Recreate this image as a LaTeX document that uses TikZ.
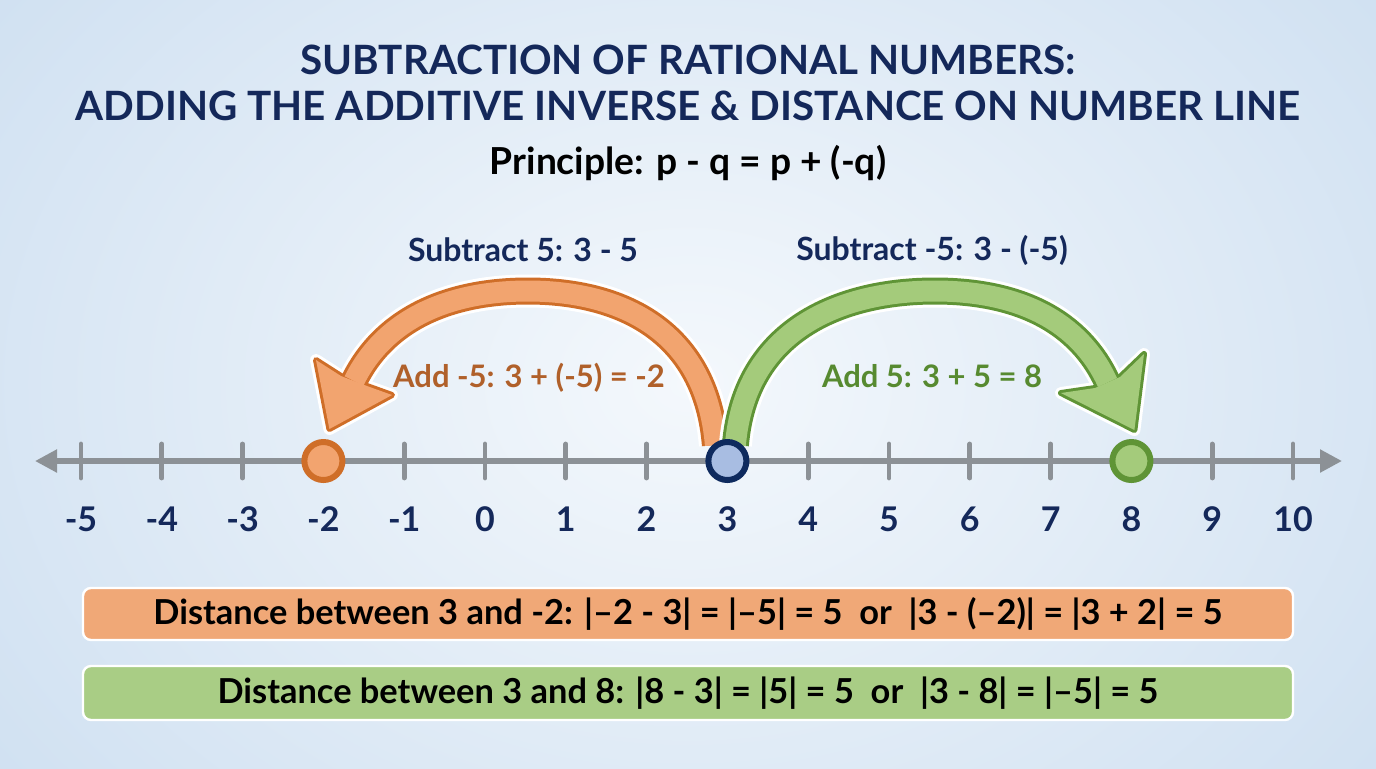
\documentclass[tikz,border=0pt]{standalone}
\usepackage{fontspec}
\setmainfont{Lato}
\usetikzlibrary{arrows.meta,calc}
\definecolor{navy}{HTML}{14285A}
\definecolor{bgin}{HTML}{F4F8FC}
\definecolor{bgout}{HTML}{CFE0F1}
\definecolor{axisgray}{HTML}{8C9196}
\definecolor{ofill}{HTML}{F2A46F}
\definecolor{oborder}{HTML}{CF6E28}
\definecolor{otext}{HTML}{B0602A}
\definecolor{gfill}{HTML}{A4CB7B}
\definecolor{gborder}{HTML}{5F9436}
\definecolor{gtext}{HTML}{578A30}
\definecolor{bfill}{HTML}{A8BDE2}
\definecolor{bborder}{HTML}{0E2A5E}
\definecolor{obox}{HTML}{F0A877}
\definecolor{gbox}{HTML}{A9CD85}
\tikzset{
  titletext/.style={font=\fontsize{20.2}{24}\selectfont\bfseries, text=navy, inner sep=0pt},
  princtext/.style={font=\fontsize{18.6}{22}\selectfont\bfseries, text=black, inner sep=0pt},
  sublab/.style={font=\fontsize{16}{19}\selectfont\bfseries, text=navy, inner sep=0pt},
  addlab/.style={font=\fontsize{15.5}{18}\selectfont\bfseries, inner sep=0pt},
  numlab/.style={font=\fontsize{17}{20}\selectfont\bfseries, text=navy, inner sep=0pt},
  axisline/.style={line width=2.6pt, draw=axisgray},
  tickline/.style={line width=2.4pt, draw=axisgray, line cap=round},
  ptnode/.style={circle, minimum size=19pt, inner sep=0pt, line width=3pt},
  infobox/.style={rounded corners=4pt, draw=white, line width=1.2pt, minimum width=605pt,
     text=black, font=\fontsize{17.2}{20}\selectfont\bfseries},
  halo/.style={draw=white, line width=16.5pt},
  halohead/.style={draw=white, fill=white, line width=6pt, line join=round},
}
\begin{document}
\begin{tikzpicture}[x=0.5pt,y=-0.5pt]
\useasboundingbox (0,0) rectangle (1376,768);
\shade[inner color=bgin, outer color=bgout] (-200,-300) rectangle (1576,1068);

% titles
\node[titletext] (t1) at (688,60) {SUBTRACTION OF RATIONAL NUMBERS:};
\node[titletext] (t2) at (688,106) {ADDING THE ADDITIVE INVERSE \& DISTANCE ON NUMBER LINE};
\node[princtext] (pr) at (688,163) {Principle: p - q = p + (-q)};

% number line
\coordinate (nlL) at (35,461);
\coordinate (nlR) at (1342,461);
\draw[axisline, {Triangle[length=11pt,width=11pt]}-{Triangle[length=11pt,width=11pt]}] (nlL) -- (nlR);
\foreach \n in {-5,...,10}{
  \draw[tickline] ({485+80.8*\n},444) -- ({485+80.8*\n},478);
  \node[numlab] (lab\n) at ({485+80.8*\n},519) {\n};
}

% point coordinates
\coordinate (cm2) at (323.4,461);
\coordinate (c3) at (727.4,461);
\coordinate (c8) at (1131.4,461);

% orange arrow geometry
\coordinate (oS) at ($(c3)+(-12,-16)$);
\coordinate (opk) at (528,291);
\coordinate (oB) at (354,381);
\coordinate (oT) at ($(cm2)+(6,-32)$);
\coordinate (oW1) at (316,360);
\coordinate (oW2) at (392,395);
\coordinate (oN1) at (341,376);
\coordinate (oN2) at (367,386);
\def\opath{(oS) .. controls (706,330) and (620,291) .. (opk) .. controls (450,291) and (385,318) .. (oB)}
\def\ohead{(oN1) -- (oW1) -- (oT) -- (oW2) -- (oN2) -- cycle}

% green arrow geometry
\coordinate (gS) at ($(c3)+(8,-16)$);
\coordinate (gpk) at (935,291);
\coordinate (gB) at (1107.5,382.5);
\coordinate (gT) at ($(c8)+(3,-31)$);
\coordinate (gW1) at (1061,393);
\coordinate (gW2) at (1144,354);
\coordinate (gN1) at (1095,388);
\coordinate (gN2) at (1120,377);
\def\gpath{(gS) .. controls (745,330) and (840,291) .. (gpk) .. controls (1020,291) and (1080,322) .. (gB)}
\def\ghead{(gN1) -- (gW1) -- (gT) -- (gW2) -- (gN2) -- cycle}

% orange band
\draw[halo] \opath;
\filldraw[halohead] \ohead;
\draw[draw=oborder, line width=13.5pt] \opath;
\filldraw[draw=oborder, fill=oborder, line width=3pt, line join=round] \ohead;
\draw[draw=ofill, line width=10.5pt] \opath;
\fill[ofill] \ohead;

% green band
\draw[halo] \gpath;
\filldraw[halohead] \ghead;
\draw[draw=gborder, line width=13.5pt] \gpath;
\filldraw[draw=gborder, fill=gborder, line width=3pt, line join=round] \ghead;
\draw[draw=gfill, line width=10.5pt] \gpath;
\fill[gfill] \ghead;

% points
\node[ptnode, fill=ofill, draw=oborder] (pm2) at (cm2) {};
\node[ptnode, fill=bfill, draw=bborder] (p3) at (c3) {};
\node[ptnode, fill=gfill, draw=gborder] (p8) at (c8) {};

% labels
\node[sublab] (s1) at (523,250) {Subtract 5: 3 - 5};
\node[sublab] (s2) at (932,250) {Subtract -5: 3 - (-5)};
\node[addlab, text=otext] (a1) at (529,378) {Add -5: 3 + (-5) = -2};
\node[addlab, text=gtext] (a2) at (932,376) {Add 5: 3 + 5 = 8};

% boxes
\node[infobox, fill=obox, minimum height=26pt] (b1) at (688,614)
  {Distance between 3 and -2: |–2 - 3| = |–5| = 5\ \ or\ \ |3 - (–2)| = |3 + 2| = 5};
\node[infobox, fill=gbox, minimum height=27pt] (b2) at (688,693)
  {Distance between 3 and 8: |8 - 3| = |5| = 5\ \ or\ \ |3 - 8| = |–5| = 5};
\end{tikzpicture}
\end{document}
